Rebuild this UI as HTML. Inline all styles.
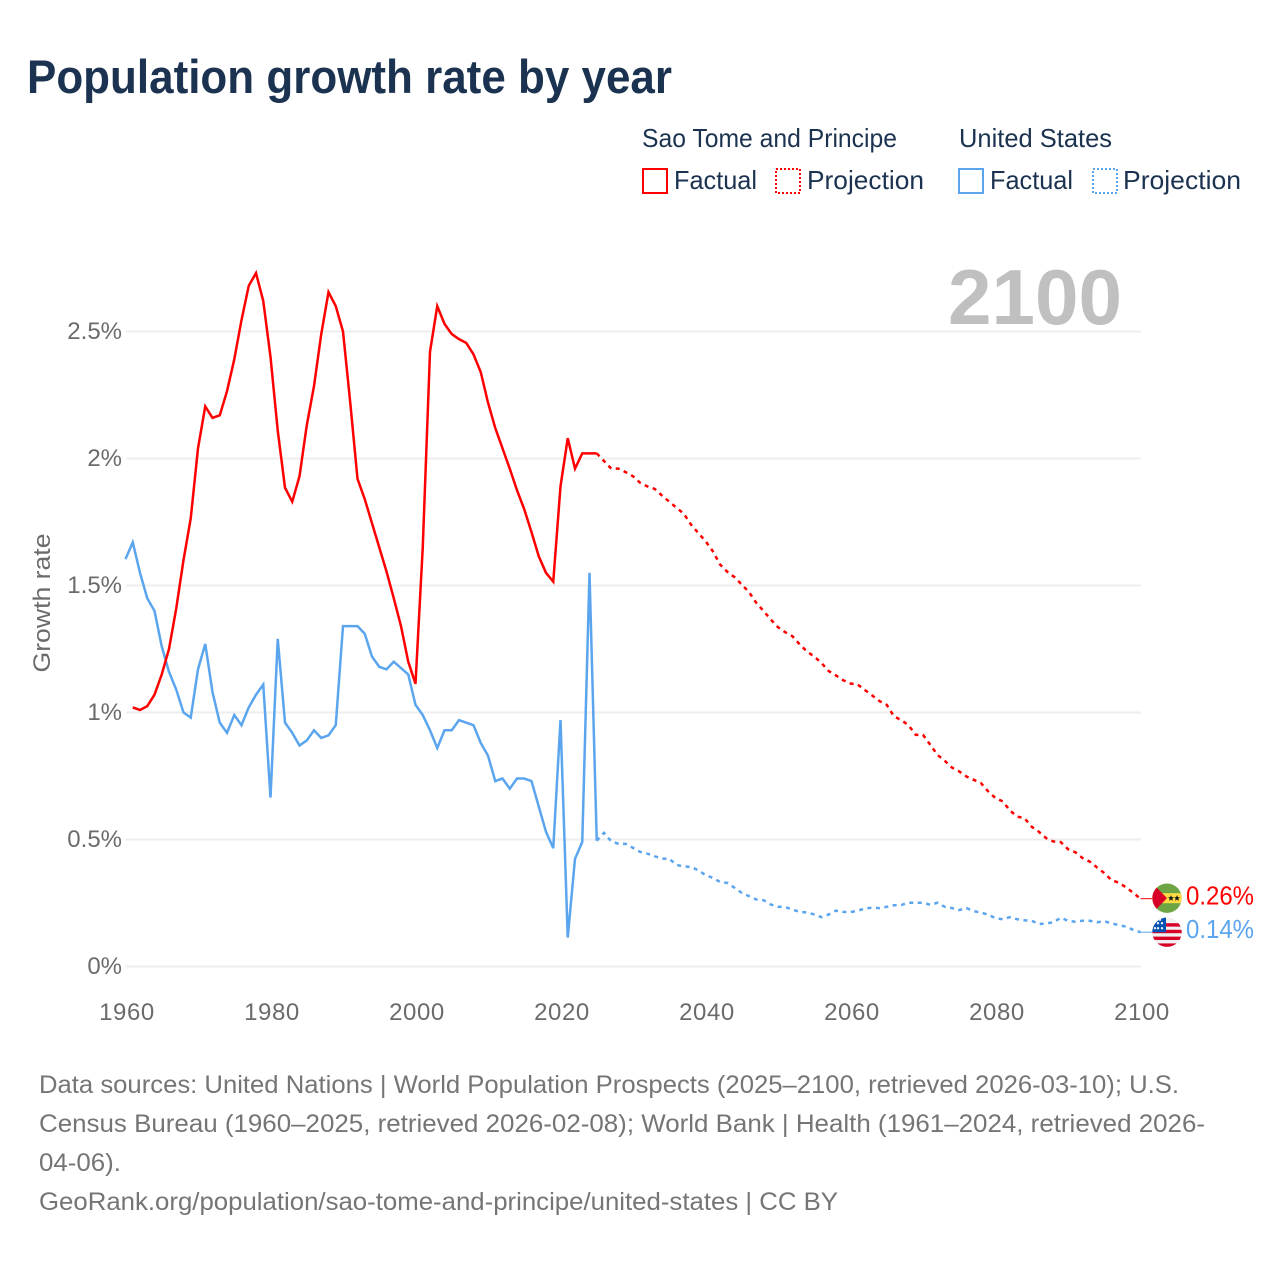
<!DOCTYPE html>
<html lang="en">
<head>
<meta charset="utf-8">
<title>Population growth rate by year</title>
<style>
html,body{margin:0;padding:0;background:#fff;}
svg{display:block;font-family:"Liberation Sans",sans-serif;}
.leg{font-size:26px;fill:#1b3350;}
.tick{font-size:24px;fill:#6b6b6b;}
.foot{font-size:25px;fill:#757575;}
</style>
</head>
<body>
<svg id="chart" xmlns="http://www.w3.org/2000/svg" width="1280" height="1280" viewBox="0 0 1280 1280">
  <rect x="0" y="0" width="1280" height="1280" fill="#ffffff"/>
  <text x="27" y="93" font-size="47" font-weight="700" fill="#1b3350" textLength="645" lengthAdjust="spacingAndGlyphs">Population growth rate by year</text>

  <g>
    <text class="leg" x="642" y="147" textLength="255" lengthAdjust="spacingAndGlyphs">Sao Tome and Principe</text>
    <text class="leg" x="959" y="147" textLength="153" lengthAdjust="spacingAndGlyphs">United States</text>
    <g>
      <rect x="643" y="169" width="24" height="24" fill="none" stroke="#ff0000" stroke-width="2"/>
      <text class="leg" x="674" y="189" textLength="83" lengthAdjust="spacingAndGlyphs">Factual</text>
    </g>
    <g>
      <rect x="776" y="169" width="24" height="24" fill="none" stroke="#ff0000" stroke-width="2" stroke-dasharray="2 2"/>
      <text class="leg" x="807" y="189" textLength="117" lengthAdjust="spacingAndGlyphs">Projection</text>
    </g>
    <g>
      <rect x="959" y="169" width="24" height="24" fill="none" stroke="#5aa5ee" stroke-width="2"/>
      <text class="leg" x="990" y="189" textLength="83" lengthAdjust="spacingAndGlyphs">Factual</text>
    </g>
    <g>
      <rect x="1093" y="169" width="24" height="24" fill="none" stroke="#5aa5ee" stroke-width="2" stroke-dasharray="2 2"/>
      <text class="leg" x="1123" y="189" textLength="118" lengthAdjust="spacingAndGlyphs">Projection</text>
    </g>
  </g>

  <g id="grid"></g>
  <text x="1122" y="324" text-anchor="end" font-size="78" font-weight="700" fill="#c0c0c0" textLength="174" lengthAdjust="spacingAndGlyphs">2100</text>
  <g id="yticks"></g>
  <g id="xticks"></g>
  <text class="tick" transform="translate(50,603) rotate(-90)" text-anchor="middle" font-size="24" textLength="139" lengthAdjust="spacingAndGlyphs">Growth rate</text>
  <g id="series"></g>

  <defs>
    <clipPath id="flag-clip"><circle cx="0" cy="0" r="14.7"/></clipPath>
  </defs>
  <g id="flag-stp">
    <g clip-path="url(#flag-clip)">
      <rect x="-16" y="-16" width="32" height="32" fill="#6da544"/>
      <rect x="-16" y="-5" width="32" height="10" fill="#ffda44"/>
      <polygon points="-16,-16.4 0,0 -16,16.4" fill="#d80027"/>
      <polygon points="4,-3 4.9,-0.9 7,-0.9 5.3,0.5 6,2.7 4,1.3 2,2.7 2.7,0.5 1,-0.9 3.1,-0.9" fill="#111"/>
      <polygon points="10,-3 10.9,-0.9 13,-0.9 11.3,0.5 12,2.7 10,1.3 8,2.7 8.7,0.5 7,-0.9 9.1,-0.9" fill="#111"/>
    </g>
  </g>
  <g id="flag-us">
    <g clip-path="url(#flag-clip)">
      <rect x="-16" y="-16" width="32" height="32" fill="#f0f0f0"/>
      <rect x="-16" y="-9" width="32" height="3.4" fill="#d80027"/>
      <rect x="-16" y="-2.4" width="32" height="3.4" fill="#d80027"/>
      <rect x="-16" y="4.4" width="32" height="3.4" fill="#d80027"/>
      <rect x="-16" y="11.2" width="32" height="3.6" fill="#d80027"/>
      <rect x="-16" y="-16" width="15" height="16" fill="#0052b4"/>
      <circle cx="-9" cy="-4" r="1.2" fill="#f0f0f0"/><circle cx="-5" cy="-4" r="1.2" fill="#f0f0f0"/>
      <circle cx="-9" cy="-9" r="1.2" fill="#f0f0f0"/><circle cx="-5" cy="-9" r="1.2" fill="#f0f0f0"/>
      <circle cx="-7" cy="-12.5" r="1.2" fill="#f0f0f0"/><circle cx="-12" cy="-4" r="1.2" fill="#f0f0f0"/>
    </g>
  </g>
  <g id="end-labels"></g>

  <g>
    <text class="foot" x="39" y="1093" textLength="1140" lengthAdjust="spacingAndGlyphs">Data sources: United Nations | World Population Prospects (2025–2100, retrieved 2026-03-10); U.S.</text>
    <text class="foot" x="39" y="1132" textLength="1166" lengthAdjust="spacingAndGlyphs">Census Bureau (1960–2025, retrieved 2026-02-08); World Bank | Health (1961–2024, retrieved 2026-</text>
    <text class="foot" x="39" y="1171" textLength="82" lengthAdjust="spacingAndGlyphs">04-06).</text>
    <text class="foot" x="39" y="1210" textLength="799" lengthAdjust="spacingAndGlyphs">GeoRank.org/population/sao-tome-and-principe/united-states | CC BY</text>
  </g>
</svg>
<script>
const NS = 'http://www.w3.org/2000/svg';

const yTickValues = [0, 0.5, 1, 1.5, 2, 2.5];
const yTickLabels = ['0%', '0.5%', '1%', '1.5%', '2%', '2.5%'];
const xTickYears = [1960, 1980, 2000, 2020, 2040, 2060, 2080, 2100];
const xTickLabels = ['1960', '1980', '2000', '2020', '2040', '2060', '2080', '2100'];

const usFactualStartYear = 1960;
const usFactual = [
  1.604,1.67,1.55,1.45,1.40,1.26,1.16,1.09,1.00,0.98,
  1.17,1.27,1.08,0.96,0.92,0.99,0.95,1.02,1.07,1.11,
  0.665,1.29,0.96,0.92,0.87,0.89,0.93,0.90,0.91,0.95,
  1.34,1.34,1.34,1.31,1.22,1.18,1.17,1.20,1.175,1.15,
  1.03,0.99,0.93,0.86,0.93,0.93,0.97,0.96,0.95,0.88,
  0.83,0.73,0.74,0.70,0.74,0.74,0.73,0.63,0.53,0.466,
  0.97,0.114,0.424,0.49,1.55,0.495
];
const stpFactualStartYear = 1961;
const stpFactual = [
  1.02,1.01,1.025,1.07,1.15,1.25,1.41,1.60,1.765,
  2.04,2.205,2.16,2.17,2.265,2.39,2.545,2.68,2.73,2.62,
  2.40,2.11,1.885,1.83,1.93,2.13,2.285,2.49,2.655,2.60,
  2.50,2.22,1.92,1.84,1.745,1.65,1.555,1.45,1.34,1.20,
  1.113,1.65,2.42,2.60,2.53,2.49,2.47,2.455,2.41,2.34,
  2.22,2.12,2.04,1.96,1.875,1.80,1.71,1.615,1.55,1.515,
  1.89,2.08,1.96,2.02,2.02,2.02
];
const projectionStartYear = 2025;
const stpProjection = [
  2.02,1.99,1.96,1.96,1.946,
  1.93,1.904,1.89,1.88,1.854,1.83,1.806,1.783,1.74,1.707,
  1.675,1.635,1.583,1.554,1.533,1.504,1.474,1.432,1.40,1.366,
  1.336,1.316,1.30,1.268,1.24,1.22,1.195,1.163,1.146,1.127,
  1.114,1.11,1.088,1.067,1.045,1.03,0.985,0.97,0.95,0.912,
  0.912,0.873,0.833,0.81,0.783,0.768,0.748,0.735,0.722,0.689,
  0.663,0.65,0.614,0.59,0.584,0.55,0.53,0.505,0.492,0.49,
  0.462,0.45,0.427,0.413,0.39,0.368,0.34,0.33,0.312,0.29,
  0.267
];
const usProjection = [
  0.495,0.526,0.493,0.483,0.483,
  0.467,0.451,0.444,0.434,0.425,0.424,0.40,0.394,0.392,0.379,
  0.36,0.349,0.333,0.329,0.31,0.29,0.277,0.264,0.261,0.244,
  0.235,0.234,0.224,0.215,0.213,0.205,0.194,0.205,0.22,0.215,
  0.214,0.22,0.228,0.232,0.23,0.235,0.241,0.242,0.251,0.251,
  0.251,0.243,0.251,0.235,0.23,0.222,0.23,0.218,0.212,0.204,
  0.19,0.186,0.194,0.186,0.182,0.18,0.167,0.17,0.174,0.192,
  0.18,0.176,0.18,0.18,0.174,0.178,0.17,0.163,0.157,0.144,
  0.135
];
const stpEndLabel = '0.26%';
const usEndLabel = '0.14%';

const RED = '#ff0000';
const BLUE = '#5aa5ee';
function xScale(year) { return 125.5 + (year - 1960) * 7.25; }
function yScale(value) { return 966.5 - value * 254; }

function make(tag, attrs, parent, text) {
  const el = document.createElementNS(NS, tag);
  Object.keys(attrs).forEach(function (k) { el.setAttribute(k, attrs[k]); });
  if (text !== undefined) el.textContent = text;
  parent.appendChild(el);
  return el;
}
function linePoints(values, startYear) {
  return values.map(function (v, i) {
    return xScale(startYear + i).toFixed(2) + ',' + yScale(v).toFixed(2);
  }).join(' ');
}

const gridG = document.getElementById('grid');
const yG = document.getElementById('yticks');
yTickValues.forEach(function (v, i) {
  const gridLine = make('line', { x1: 126, x2: 1141, y1: yScale(v), y2: yScale(v), stroke: '#eeeeee', 'stroke-width': 2 }, gridG);
  
  
  const label = make('text', { class: 'tick', x: 122, y: yScale(v) + 7.5, 'text-anchor': 'end' }, yG, yTickLabels[i]);
  
  
});

const xG = document.getElementById('xticks');
xTickYears.forEach(function (yr, i) {
  const label = make('text', { class: 'tick', x: xScale(yr) + 1.5, y: 1020, 'text-anchor': 'middle', 'letter-spacing': '0.6' }, xG, xTickLabels[i]);
  
  
});

const seriesG = document.getElementById('series');
const lineBase = { fill: 'none', 'stroke-width': 2.5, 'stroke-linejoin': 'miter' };

const usFactualLine = make('polyline', Object.assign({ points: linePoints(usFactual, usFactualStartYear), stroke: BLUE }, lineBase), seriesG);



const stpFactualLine = make('polyline', Object.assign({ points: linePoints(stpFactual, stpFactualStartYear), stroke: RED }, lineBase), seriesG);



const usProjectionLine = make('polyline', Object.assign({ points: linePoints(usProjection, projectionStartYear), stroke: BLUE, 'stroke-dasharray': '4 4.5' }, lineBase), seriesG);



const stpProjectionLine = make('polyline', Object.assign({ points: linePoints(stpProjection, projectionStartYear), stroke: RED, 'stroke-dasharray': '4 4.5' }, lineBase), seriesG);



const endG = document.getElementById('end-labels');
const stpEndY = yScale(stpProjection[stpProjection.length - 1]);
const usEndY = yScale(usProjection[usProjection.length - 1]);

const stpConnector = make('line', { x1: xScale(2100), x2: 1152, y1: stpEndY, y2: stpEndY, stroke: RED, 'stroke-width': 1 }, endG);


const usConnector = make('line', { x1: xScale(2100), x2: 1152, y1: usEndY, y2: usEndY, stroke: BLUE, 'stroke-width': 1 }, endG);



document.getElementById('flag-stp').setAttribute('transform', 'translate(1167,' + (stpEndY - 0.5) + ')');
document.getElementById('flag-us').setAttribute('transform', 'translate(1167,' + usEndY + ')');

const stpLabel = make('text', { x: 1186, y: stpEndY + 6, 'font-size': 26, fill: RED, textLength: 68, lengthAdjust: 'spacingAndGlyphs' }, endG, stpEndLabel);


const usLabel = make('text', { x: 1186, y: usEndY + 6, 'font-size': 26, fill: BLUE, textLength: 68, lengthAdjust: 'spacingAndGlyphs' }, endG, usEndLabel);


</script>
</body>
</html>
